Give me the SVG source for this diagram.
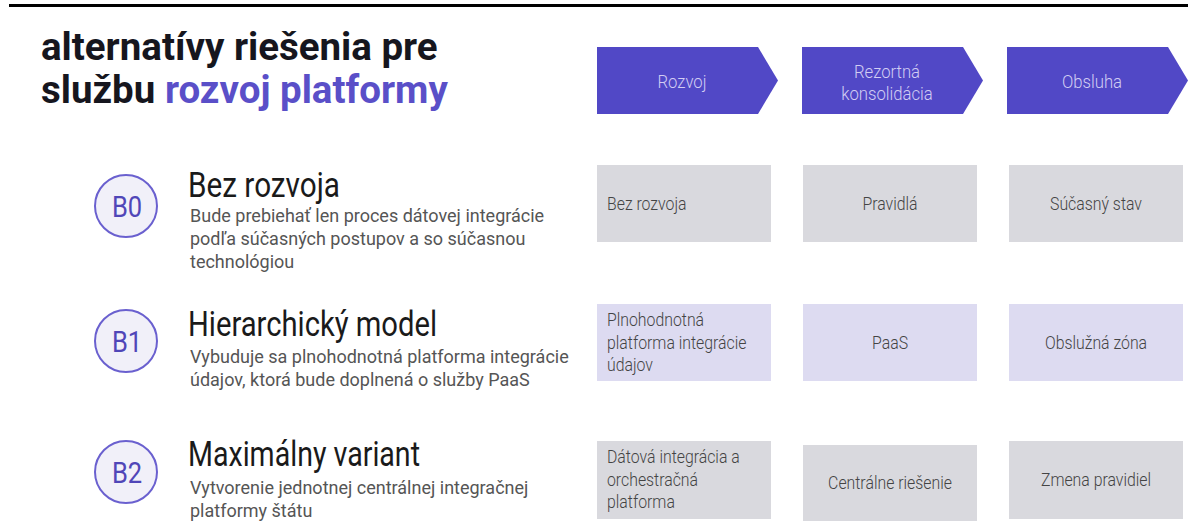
<svg xmlns="http://www.w3.org/2000/svg" width="1189" height="525" viewBox="0 0 1189 525">
<style>
.title{font-family:Roboto,"Liberation Sans",sans-serif;font-weight:700;font-size:38.5px;fill:#16161e}
.accent{fill:#5a4fc8}
.arrow{fill:#5148c6}
.htxt{font-family:Roboto,"Liberation Sans",sans-serif;font-weight:300;font-size:19px;fill:#d2cdf3}
.circ{fill:#f1f0f9;stroke:#6a60cf;stroke-width:2}
.ctxt{font-family:Roboto,"Liberation Sans",sans-serif;font-size:30px;fill:#5046b8}
.head{font-family:Roboto,"Liberation Sans",sans-serif;font-size:35px;fill:#1a1a1a}
.desc{font-family:Roboto,"Liberation Sans",sans-serif;font-size:18px;fill:#555}
.gray{fill:#d9d9de}
.lav{fill:#dddbf1}
.btxt{font-family:Roboto,"Liberation Sans",sans-serif;font-weight:300;font-size:18px;fill:#444}
</style>
<rect width="1189" height="525" fill="#ffffff"/>
<line x1="9" y1="5.5" x2="1188" y2="5.5" stroke="#000" stroke-width="3"/>

<g id="title">
<text class="title" x="41" y="60">alternatívy riešenia pre</text>
<text class="title" x="41" y="103">službu <tspan class="accent">rozvoj platformy</tspan></text>
</g>

<g id="header-rozvoj">
<polygon class="arrow" points="597,47 758,47 778,80.5 758,114 597,114"/>
<text class="htxt" transform="translate(682,88) scale(0.88,1)" text-anchor="middle">Rozvoj</text>
</g>
<g id="header-rezortna">
<polygon class="arrow" points="802,47 963,47 983,80.5 963,114 802,114"/>
<text class="htxt" transform="translate(887,78) scale(0.88,1)" text-anchor="middle">Rezortná</text>
<text class="htxt" transform="translate(887,100) scale(0.88,1)" text-anchor="middle">konsolidácia</text>
</g>
<g id="header-obsluha">
<polygon class="arrow" points="1007,47 1168,47 1188,80.5 1168,114 1007,114"/>
<text class="htxt" transform="translate(1092,88) scale(0.88,1)" text-anchor="middle">Obsluha</text>
</g>

<g id="B0">
<circle class="circ" cx="126" cy="206" r="31"/>
<text class="ctxt" transform="translate(127,217) scale(0.85,1)" text-anchor="middle">B0</text>
<text class="head" x="188" y="197" textLength="152" lengthAdjust="spacingAndGlyphs">Bez rozvoja</text>
<text class="desc" x="190" y="222">Bude prebiehať len proces dátovej integrácie</text>
<text class="desc" x="190" y="245">podľa súčasných postupov a so súčasnou</text>
<text class="desc" x="190" y="268">technológiou</text>
</g>
<g id="B1">
<circle class="circ" cx="126" cy="341" r="31"/>
<text class="ctxt" transform="translate(127,352) scale(0.85,1)" text-anchor="middle">B1</text>
<text class="head" x="188" y="336" textLength="249" lengthAdjust="spacingAndGlyphs">Hierarchický model</text>
<text class="desc" x="190" y="363">Vybuduje sa plnohodnotná platforma integrácie</text>
<text class="desc" x="190" y="386">údajov, ktorá bude doplnená o služby PaaS</text>
</g>
<g id="B2">
<circle class="circ" cx="126" cy="472" r="31"/>
<text class="ctxt" transform="translate(127,483) scale(0.85,1)" text-anchor="middle">B2</text>
<text class="head" x="188" y="466" textLength="232" lengthAdjust="spacingAndGlyphs">Maximálny variant</text>
<text class="desc" x="190" y="494">Vytvorenie jednotnej centrálnej integračnej</text>
<text class="desc" x="190" y="517">platformy štátu</text>
</g>

<g id="r0c0">
<rect class="gray" x="597" y="165" width="174" height="77"/>
<text class="btxt" transform="translate(607,210) scale(0.88,1)">Bez rozvoja</text>
</g>
<g id="r0c1">
<rect class="gray" x="803" y="165" width="174" height="77"/>
<text class="btxt" transform="translate(890,210) scale(0.88,1)" text-anchor="middle">Pravidlá</text>
</g>
<g id="r0c2">
<rect class="gray" x="1009" y="165" width="174" height="77"/>
<text class="btxt" transform="translate(1096,210) scale(0.88,1)" text-anchor="middle">Súčasný stav</text>
</g>

<g id="r1c0">
<rect class="lav" x="597" y="304" width="174" height="77"/>
<text class="btxt" transform="translate(607,326) scale(0.88,1)">Plnohodnotná</text>
<text class="btxt" transform="translate(607,348.5) scale(0.88,1)">platforma integrácie</text>
<text class="btxt" transform="translate(607,371) scale(0.88,1)">údajov</text>
</g>
<g id="r1c1">
<rect class="lav" x="803" y="304" width="174" height="77"/>
<text class="btxt" transform="translate(890,349) scale(0.88,1)" text-anchor="middle">PaaS</text>
</g>
<g id="r1c2">
<rect class="lav" x="1009" y="304" width="174" height="77"/>
<text class="btxt" transform="translate(1096,349) scale(0.88,1)" text-anchor="middle">Obslužná zóna</text>
</g>

<g id="r2c0">
<rect class="gray" x="597" y="441" width="174" height="78"/>
<text class="btxt" transform="translate(607,463) scale(0.88,1)">Dátová integrácia a</text>
<text class="btxt" transform="translate(607,486) scale(0.88,1)">orchestračná</text>
<text class="btxt" transform="translate(607,508) scale(0.88,1)">platforma</text>
</g>
<g id="r2c1">
<rect class="gray" x="803" y="445" width="174" height="76"/>
<text class="btxt" transform="translate(890,489) scale(0.88,1)" text-anchor="middle">Centrálne riešenie</text>
</g>
<g id="r2c2">
<rect class="gray" x="1009" y="441" width="174" height="78"/>
<text class="btxt" transform="translate(1096,486) scale(0.88,1)" text-anchor="middle">Zmena pravidiel</text>
</g>

<g id="connectors"></g>
</svg>
